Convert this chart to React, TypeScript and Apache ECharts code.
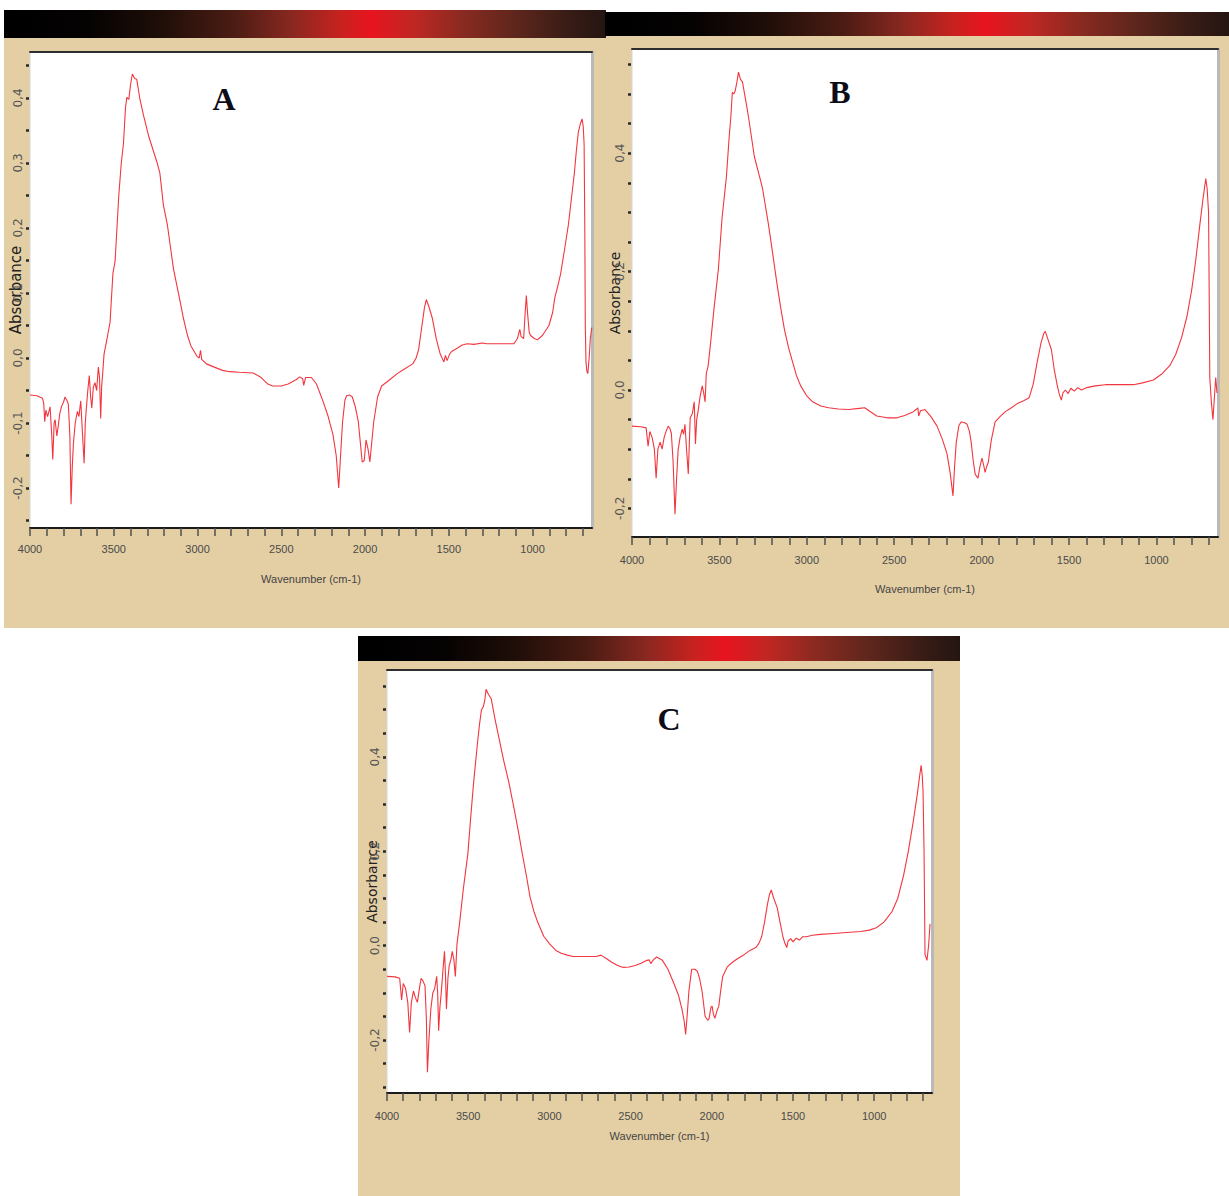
import React, { useEffect, useRef } from "react";
import * as echarts from "echarts";

// ---------- data (wavenumber cm-1, absorbance) ----------
const spectrumA: [number, number][] = [
  [4000, -0.057], [3960, -0.058], [3925, -0.062], [3918, -0.07], [3912, -0.098], [3905, -0.08],
  [3895, -0.09], [3880, -0.075], [3870, -0.12], [3864, -0.156], [3856, -0.1], [3850, -0.095],
  [3840, -0.12], [3831, -0.104], [3822, -0.085], [3811, -0.074], [3800, -0.068], [3791, -0.06],
  [3780, -0.065], [3771, -0.071], [3762, -0.12], [3755, -0.225], [3748, -0.17], [3741, -0.132],
  [3730, -0.1], [3717, -0.082], [3708, -0.09], [3697, -0.066], [3688, -0.11], [3677, -0.162],
  [3670, -0.1], [3665, -0.082], [3655, -0.05], [3646, -0.027], [3638, -0.06], [3631, -0.077],
  [3622, -0.045], [3612, -0.038], [3602, -0.05], [3592, -0.014], [3585, -0.03], [3578, -0.093],
  [3572, -0.043], [3565, -0.02], [3558, 0.006], [3540, 0.03], [3522, 0.055], [3505, 0.13],
  [3492, 0.149], [3470, 0.25], [3455, 0.3], [3442, 0.33], [3430, 0.385], [3422, 0.401],
  [3410, 0.398], [3400, 0.42], [3389, 0.437], [3375, 0.43], [3363, 0.429], [3345, 0.4],
  [3323, 0.374], [3290, 0.34], [3243, 0.302], [3225, 0.285], [3204, 0.236], [3180, 0.205],
  [3144, 0.138], [3110, 0.095], [3084, 0.061], [3060, 0.035], [3040, 0.019], [3004, 0.003],
  [2990, 0.0], [2982, 0.012], [2975, -0.002], [2947, -0.009], [2900, -0.014], [2850, -0.019],
  [2808, -0.021], [2750, -0.022], [2668, -0.023], [2620, -0.03], [2580, -0.04], [2552, -0.043],
  [2500, -0.043], [2459, -0.04], [2410, -0.033], [2390, -0.029], [2372, -0.032], [2366, -0.042],
  [2355, -0.03], [2320, -0.03], [2290, -0.04], [2250, -0.067], [2220, -0.09], [2192, -0.117],
  [2172, -0.15], [2157, -0.2], [2146, -0.15], [2134, -0.098], [2120, -0.065], [2110, -0.058],
  [2090, -0.057], [2076, -0.06], [2058, -0.075], [2040, -0.098], [2028, -0.13], [2017, -0.16],
  [2005, -0.158], [1994, -0.126], [1982, -0.14], [1971, -0.16], [1960, -0.13], [1948, -0.098],
  [1925, -0.06], [1901, -0.043], [1860, -0.035], [1808, -0.024], [1760, -0.016], [1715, -0.009],
  [1695, 0.0], [1680, 0.013], [1660, 0.05], [1645, 0.078], [1634, 0.09], [1620, 0.08],
  [1599, 0.062], [1575, 0.03], [1552, 0.007], [1540, 0.0], [1529, -0.006], [1520, 0.004],
  [1510, -0.004], [1495, 0.006], [1483, 0.01], [1450, 0.015], [1420, 0.02], [1390, 0.022],
  [1350, 0.021], [1300, 0.023], [1274, 0.022], [1200, 0.022], [1150, 0.022], [1111, 0.022],
  [1090, 0.03], [1076, 0.044], [1068, 0.033], [1053, 0.03], [1044, 0.07], [1037, 0.096],
  [1030, 0.07], [1020, 0.04], [1013, 0.035], [990, 0.03], [971, 0.028], [940, 0.035],
  [902, 0.05], [880, 0.07], [867, 0.093], [850, 0.11], [832, 0.13], [810, 0.165],
  [786, 0.205], [768, 0.245], [750, 0.285], [738, 0.32], [727, 0.347], [715, 0.36],
  [704, 0.368], [697, 0.355], [692, 0.328], [688, 0.2], [685, 0.05], [681, -0.006],
  [676, -0.02], [670, -0.024], [662, 0.0], [655, 0.03], [646, 0.047],
];

const spectrumB: [number, number][] = [
  [4000, -0.061], [3950, -0.062], [3919, -0.064], [3908, -0.095], [3898, -0.07], [3885, -0.08],
  [3872, -0.1], [3862, -0.149], [3852, -0.1], [3839, -0.088], [3828, -0.1], [3816, -0.08],
  [3805, -0.07], [3793, -0.061], [3783, -0.065], [3775, -0.073], [3765, -0.12], [3754, -0.21],
  [3745, -0.15], [3736, -0.101], [3725, -0.08], [3713, -0.066], [3705, -0.075], [3697, -0.058],
  [3688, -0.1], [3678, -0.142], [3672, -0.09], [3667, -0.047], [3655, -0.04], [3644, -0.02],
  [3637, -0.091], [3630, -0.05], [3621, -0.034], [3610, -0.01], [3598, 0.007], [3590, -0.005],
  [3582, -0.02], [3575, 0.028], [3565, 0.04], [3552, 0.075], [3530, 0.14], [3506, 0.204],
  [3485, 0.29], [3460, 0.36], [3444, 0.428], [3435, 0.46], [3426, 0.503], [3418, 0.5],
  [3410, 0.505], [3400, 0.52], [3391, 0.537], [3380, 0.525], [3368, 0.52], [3350, 0.49],
  [3334, 0.462], [3300, 0.394], [3270, 0.36], [3253, 0.34], [3219, 0.279], [3195, 0.23],
  [3173, 0.184], [3150, 0.14], [3128, 0.102], [3105, 0.072], [3082, 0.048], [3060, 0.025],
  [3035, 0.007], [3000, -0.01], [2967, -0.02], [2920, -0.027], [2875, -0.03], [2820, -0.032],
  [2760, -0.033], [2700, -0.031], [2669, -0.03], [2630, -0.038], [2600, -0.044], [2540, -0.047],
  [2485, -0.047], [2440, -0.043], [2393, -0.037], [2375, -0.033], [2365, -0.03], [2360, -0.044],
  [2350, -0.035], [2324, -0.033], [2290, -0.045], [2255, -0.061], [2225, -0.083], [2198, -0.108],
  [2180, -0.14], [2164, -0.179], [2155, -0.13], [2145, -0.088], [2130, -0.06], [2118, -0.054],
  [2100, -0.055], [2083, -0.058], [2070, -0.07], [2060, -0.088], [2048, -0.12], [2037, -0.142],
  [2021, -0.149], [2010, -0.13], [1998, -0.115], [1990, -0.125], [1980, -0.139], [1972, -0.13],
  [1962, -0.122], [1945, -0.085], [1923, -0.054], [1895, -0.045], [1866, -0.037], [1830, -0.03],
  [1796, -0.023], [1760, -0.018], [1728, -0.013], [1705, 0.01], [1682, 0.048], [1660, 0.08],
  [1645, 0.095], [1636, 0.099], [1620, 0.085], [1601, 0.068], [1585, 0.035], [1567, 0.007],
  [1555, -0.008], [1544, -0.017], [1535, -0.005], [1521, 0.0], [1505, -0.006], [1490, 0.003],
  [1470, -0.002], [1450, 0.004], [1430, 0.0], [1400, 0.004], [1350, 0.007], [1292, 0.009],
  [1200, 0.009], [1131, 0.009], [1080, 0.012], [1017, 0.017], [970, 0.027], [924, 0.041],
  [890, 0.06], [856, 0.089], [825, 0.125], [798, 0.17], [775, 0.22], [752, 0.279],
  [735, 0.32], [718, 0.357], [710, 0.34], [702, 0.3], [698, 0.15], [695, 0.021],
  [686, -0.02], [677, -0.05], [668, -0.01], [661, 0.021], [654, -0.005],
];

const spectrumC: [number, number][] = [
  [4000, -0.065], [3950, -0.066], [3922, -0.069], [3910, -0.115], [3900, -0.08], [3886, -0.09],
  [3872, -0.12], [3861, -0.184], [3850, -0.12], [3837, -0.096], [3825, -0.11], [3813, -0.12],
  [3800, -0.09], [3790, -0.069], [3778, -0.075], [3766, -0.085], [3758, -0.15], [3751, -0.268],
  [3742, -0.2], [3730, -0.134], [3718, -0.1], [3706, -0.09], [3694, -0.065], [3688, -0.1],
  [3682, -0.18], [3674, -0.13], [3665, -0.096], [3655, -0.05], [3646, -0.012], [3640, -0.06],
  [3634, -0.134], [3625, -0.07], [3617, -0.042], [3607, -0.03], [3598, -0.012], [3588, -0.03],
  [3579, -0.065], [3569, 0.004], [3555, 0.042], [3530, 0.12], [3502, 0.195], [3485, 0.27],
  [3466, 0.348], [3442, 0.432], [3430, 0.47], [3418, 0.5], [3406, 0.507], [3398, 0.52],
  [3390, 0.543], [3375, 0.532], [3358, 0.523], [3335, 0.48], [3310, 0.439], [3280, 0.39],
  [3251, 0.348], [3215, 0.286], [3190, 0.24], [3167, 0.195], [3140, 0.145], [3119, 0.103],
  [3095, 0.072], [3071, 0.049], [3035, 0.02], [2999, 0.004], [2960, -0.01], [2927, -0.016],
  [2890, -0.02], [2855, -0.023], [2780, -0.023], [2712, -0.023], [2683, -0.02], [2650, -0.027],
  [2616, -0.035], [2580, -0.042], [2544, -0.046], [2510, -0.045], [2472, -0.042], [2435, -0.037],
  [2400, -0.031], [2385, -0.03], [2376, -0.038], [2360, -0.03], [2340, -0.024], [2304, -0.031],
  [2270, -0.05], [2232, -0.081], [2205, -0.105], [2184, -0.134], [2170, -0.16], [2161, -0.188],
  [2150, -0.14], [2141, -0.096], [2124, -0.05], [2105, -0.05], [2089, -0.054], [2075, -0.07],
  [2060, -0.096], [2041, -0.15], [2025, -0.158], [2017, -0.155], [2005, -0.13], [1998, -0.128],
  [1990, -0.145], [1981, -0.154], [1970, -0.14], [1957, -0.128], [1945, -0.095], [1933, -0.065],
  [1905, -0.045], [1873, -0.035], [1840, -0.027], [1801, -0.019], [1765, -0.01], [1729, -0.004],
  [1710, 0.005], [1693, 0.019], [1675, 0.05], [1657, 0.088], [1645, 0.108], [1634, 0.118],
  [1620, 0.102], [1597, 0.08], [1580, 0.05], [1562, 0.019], [1550, 0.005], [1538, -0.004],
  [1530, 0.01], [1514, 0.015], [1500, 0.008], [1480, 0.016], [1460, 0.012], [1440, 0.019],
  [1418, 0.019], [1380, 0.022], [1330, 0.024], [1250, 0.026], [1170, 0.028], [1083, 0.03],
  [1030, 0.033], [987, 0.038], [940, 0.05], [891, 0.072], [855, 0.1], [819, 0.149],
  [790, 0.2], [759, 0.264], [735, 0.32], [720, 0.36], [711, 0.382], [704, 0.36],
  [699, 0.325], [693, 0.2], [687, -0.019], [675, -0.031], [665, 0.0], [656, 0.046],
];

// ---------- tick labels ----------
const xLabelValues = [4000, 3500, 3000, 2500, 2000, 1500, 1000];
const xTickValues = [
  4000, 3900, 3800, 3700, 3600, 3500, 3400, 3300, 3200, 3100, 3000, 2900, 2800, 2700, 2600,
  2500, 2400, 2300, 2200, 2100, 2000, 1900, 1800, 1700, 1600, 1500, 1400, 1300, 1200, 1100,
  1000, 900, 800, 700,
];
const yLabelsA = [-0.2, -0.1, 0, 0.1, 0.2, 0.3, 0.4];
const yLabelsBC = [-0.2, 0, 0.2, 0.4];
const yTicksA = [-0.25, -0.2, -0.15, -0.1, -0.05, 0, 0.05, 0.1, 0.15, 0.2, 0.25, 0.3, 0.35, 0.4, 0.45];
const yTicksB = [-0.2, -0.15, -0.1, -0.05, 0, 0.05, 0.1, 0.15, 0.2, 0.25, 0.3, 0.35, 0.4, 0.45, 0.5, 0.55];
const yTicksC = [-0.3, -0.25, -0.2, -0.15, -0.1, -0.05, 0, 0.05, 0.1, 0.15, 0.2, 0.25, 0.3, 0.35, 0.4, 0.45, 0.5, 0.55];
const panelLetters = ["A", "B", "C"];
const xAxisTitle = "Wavenumber (cm-1)";
const yAxisTitle = "Absorbance";

// ---------- layout / style ----------
const NARROW = '"Liberation Sans Narrow", "Liberation Sans", Arial, sans-serif';
const LINE_COLOR = "#f2363f";
const TAN = "#e4cfa4";
const BAR_GRADIENT =
  "linear-gradient(to right, #000000 0%, #050202 14%, #1f0e08 26%, #4a1c13 38%, #8a2820 48%, #c8221f 56%, #e8141f 61%, #c02723 68%, #8a2a20 76%, #5e261c 85%, #3b1d16 93%, #241511 100%)";

const panels = [
  {
    grid: { left: 30, top: 52, width: 562, height: 476 },
    xMin: 645, yMin: -0.2615, yMax: 0.4708,
    yLabels: yLabelsA, yTicks: yTicksA, data: spectrumA,
    labelMargin: 15, nameGap: 45, yNameGap: 6, yNameSize: 15,
    letter: { x: 224, y: 99 },
  },
  {
    grid: { left: 632, top: 49, width: 586, height: 488 },
    xMin: 648, yMin: -0.2483, yMax: 0.576,
    yLabels: yLabelsBC, yTicks: yTicksB, data: spectrumB,
    labelMargin: 17, nameGap: 46, yNameGap: 9, yNameSize: 14,
    letter: { x: 840, y: 92 },
  },
  {
    grid: { left: 387, top: 670, width: 545, height: 423 },
    xMin: 644, yMin: -0.312, yMax: 0.584,
    yLabels: yLabelsBC, yTicks: yTicksC, data: spectrumC,
    labelMargin: 17, nameGap: 37, yNameGap: 7, yNameSize: 14,
    letter: { x: 669, y: 719 },
  },
];

const fmtY = (v: number) => (Math.abs(v) < 1e-9 ? "0,0" : v.toFixed(1).replace(".", ","));

export default function App() {
  const ref = useRef<HTMLDivElement>(null);

  useEffect(() => {
    document.body.style.margin = "0";
    if (!ref.current) return;
    const chart = echarts.init(ref.current, undefined, { renderer: "svg" });

    const grids: any[] = [];
    const xAxes: any[] = [];
    const yAxes: any[] = [];
    const series: any[] = [];
    const graphics: any[] = [];

    panels.forEach((p, i) => {
      grids.push({
        ...p.grid,
        show: true,
        backgroundColor: "#ffffff",
        borderColor: "#d6d6d6",
        borderWidth: 1,
        containLabel: false,
        outerBoundsMode: "none",
      });
      // bottom axis
      xAxes.push({
        type: "value",
        gridIndex: i,
        min: p.xMin,
        max: 4000,
        inverse: true,
        position: "bottom",
        axisLine: { show: true, onZero: false, lineStyle: { color: "#1b1b1b", width: 2 } },
        axisTick: {
          show: true,
          inside: false,
          length: 8,
          customValues: xTickValues,
          lineStyle: { color: "#505050", width: 1.5 },
        },
        axisLabel: {
          show: true,
          customValues: xLabelValues,
          margin: p.labelMargin,
          fontFamily: NARROW,
          fontSize: 11,
          color: "#4a4a4a",
          formatter: (v: number) => String(v),
        },
        splitLine: { show: false },
        name: xAxisTitle,
        nameLocation: "middle",
        nameGap: p.nameGap,
        nameMoveOverlap: false,
        nameTextStyle: { fontFamily: NARROW, fontSize: 11, color: "#444" },
      });
      // top border axis
      xAxes.push({
        type: "value",
        gridIndex: i,
        min: p.xMin,
        max: 4000,
        inverse: true,
        position: "top",
        axisLine: { show: true, onZero: false, lineStyle: { color: "#2e2e2e", width: 2 } },
        axisTick: { show: false },
        axisLabel: { show: false },
        splitLine: { show: false },
      });
      // left axis
      yAxes.push({
        type: "value",
        gridIndex: i,
        min: p.yMin,
        max: p.yMax,
        position: "left",
        offset: 1,
        axisLine: { show: false, onZero: false },
        axisTick: {
          show: true,
          inside: false,
          length: 3,
          customValues: p.yTicks,
          lineStyle: { color: "#2a2a2a", width: 2.5 },
        },
        axisLabel: {
          show: true,
          customValues: p.yLabels,
          rotate: 90,
          margin: 5,
          fontFamily: '"DejaVu Sans", sans-serif',
          fontSize: 12,
          color: "#555",
          formatter: fmtY,
        },
        splitLine: { show: false },
        name: yAxisTitle,
        nameLocation: "middle",
        nameRotate: 90,
        nameGap: p.yNameGap,
        nameMoveOverlap: false,
        nameTextStyle: { fontFamily: '"DejaVu Sans", sans-serif', fontSize: p.yNameSize, color: "#222" },
      });
      // right border axis
      yAxes.push({
        type: "value",
        gridIndex: i,
        min: p.yMin,
        max: p.yMax,
        position: "right",
        axisLine: { show: true, onZero: false, lineStyle: { color: "#b9b9b9", width: 3 } },
        axisTick: { show: false },
        axisLabel: { show: false },
        splitLine: { show: false },
      });
      series.push({
        type: "line",
        xAxisIndex: 2 * i,
        yAxisIndex: 2 * i,
        data: p.data,
        showSymbol: false,
        symbol: "none",
        clip: true,
        lineStyle: { color: LINE_COLOR, width: 1.1 },
        z: 3,
      });
      graphics.push({
        type: "text",
        x: p.letter.x,
        y: p.letter.y,
        z: 10,
        style: {
          text: panelLetters[i],
          font: 'bold 32px "Liberation Serif", "Times New Roman", serif',
          fill: "#0d0d18",
          textAlign: "center",
          textVerticalAlign: "middle",
          align: "center",
          verticalAlign: "middle",
        },
      });
    });

    chart.setOption({
      animation: false,
      backgroundColor: "transparent",
      grid: grids,
      xAxis: xAxes,
      yAxis: yAxes,
      series,
      graphic: graphics,
      tooltip: { show: false },
    });

    return () => {
      chart.dispose();
    };
  }, []);

  const box = (left: number, top: number, width: number, height: number, background: string) => (
    <div style={{ position: "absolute", left, top, width, height, background }} />
  );

  return (
    <div style={{ position: "relative", width: 1229, height: 1196, background: "#ffffff", overflow: "hidden" }}>
      {box(4, 36, 602, 592, TAN)}
      {box(605, 34, 624, 594, TAN)}
      {box(358, 660, 602, 536, TAN)}
      {box(4, 10, 602, 28, BAR_GRADIENT)}
      {box(605, 12, 624, 24, BAR_GRADIENT)}
      {box(358, 636, 602, 25, BAR_GRADIENT)}
      <div ref={ref} style={{ position: "absolute", left: 0, top: 0, width: 1229, height: 1196 }} />
    </div>
  );
}
